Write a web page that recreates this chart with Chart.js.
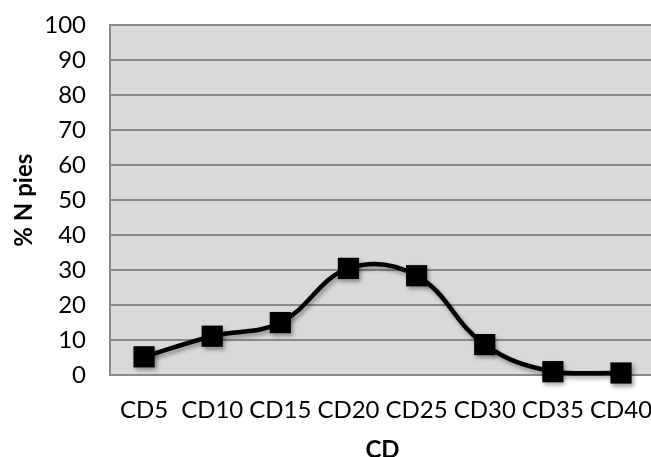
<!DOCTYPE html>
<html>
<head>
<meta charset="utf-8">
<script src="https://cdn.jsdelivr.net/npm/chart.js@4/dist/chart.umd.min.js"></script>
<style>
  html, body { margin: 0; padding: 0; background: #ffffff; overflow: hidden; }
  #wrap { width: 674px; height: 470px; position: absolute; left: 0; top: -13px; }
</style>
</head>
<body>
<div id="wrap"><canvas id="c" width="674" height="470"></canvas></div>
<script>
// Share of pieces (%) per CD class
const categories = ['CD5', 'CD10', 'CD15', 'CD20', 'CD25', 'CD30', 'CD35', 'CD40'];
const pctPieces = [5.2, 11.1, 15.0, 30.5, 28.4, 8.7, 0.95, 0.57];
const yMin = 0, yMax = 100, yStep = 10;

const FONT = 'Lato, "Open Sans", sans-serif';

// soft drop shadow under the line and markers
const shadowPlugin = {
  id: 'markShadow',
  beforeDatasetsDraw(chart) {
    const ctx = chart.ctx;
    ctx.save();
    ctx.shadowColor = 'rgba(0,0,0,0.35)';
    ctx.shadowBlur = 4;
    ctx.shadowOffsetX = 2;
    ctx.shadowOffsetY = 3;
  },
  afterDatasetsDraw(chart) {
    chart.ctx.restore();
  }
};

// grey plot-area fill
const plotBg = {
  id: 'plotBg',
  beforeDraw(chart) {
    const { ctx, chartArea: a } = chart;
    ctx.save();
    ctx.fillStyle = '#d9d9d9';
    ctx.fillRect(a.left, a.top, a.right - a.left, a.bottom - a.top);
    ctx.restore();
  }
};

new Chart(document.getElementById('c'), {
  type: 'line',
  data: {
    labels: categories,
    datasets: [{
      data: pctPieces,
      borderColor: '#000000',
      backgroundColor: '#000000',
      borderWidth: 4.5,
      tension: 0.4,
      pointStyle: 'rect',
      pointRadius: 15,
      pointHoverRadius: 15,
      pointBorderWidth: 0,
      pointBackgroundColor: '#000000',
      clip: false
    }]
  },
  options: {
    responsive: false,
    animation: false,
    events: [],
    layout: { padding: { top: 13, right: 8, left: 0, bottom: 0 } },
    plugins: { legend: { display: false }, tooltip: { enabled: false } },
    scales: {
      x: {
        offset: true,
        grid: { display: false, drawTicks: false },
        border: { display: true, color: '#8a8a8a', width: 2 },
        ticks: { color: '#000', font: { family: FONT, size: 24 }, padding: 21, maxRotation: 0, autoSkip: false },
        title: { display: true, text: 'CD', color: '#000', font: { family: FONT, size: 24, weight: 'bold' }, padding: { top: 0, bottom: -8 } },
        afterFit(s) { s.height = 82; }
      },
      y: {
        min: yMin, max: yMax,
        grid: { color: '#8a8a8a', lineWidth: 2, drawTicks: false },
        border: { display: true, color: '#8a8a8a', width: 2 },
        ticks: { stepSize: yStep, color: '#000', font: { family: FONT, size: 24 }, padding: 24 },
        title: { display: true, text: '% N pies', color: '#000', font: { family: FONT, size: 24, weight: 'bold' }, padding: { top: 10, bottom: 0 } },
        afterFit(s) { s.width = 110; }
      }
    }
  },
  plugins: [plotBg, shadowPlugin]
});
</script>
</body>
</html>
